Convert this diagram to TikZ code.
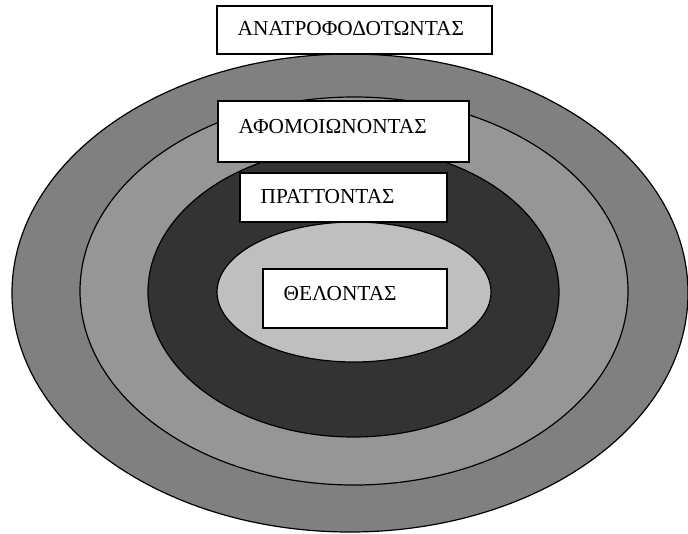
\documentclass[tikz,border=0pt]{standalone}
\usepackage{fontspec}
\setmainfont{Liberation Serif}
\usetikzlibrary{positioning}

\begin{document}
\begin{tikzpicture}[
    x=0.75pt, y=-0.75pt,
    ring/.style={draw, line width=0.9pt},
    label box/.style={draw, fill=white, line width=1.4pt, anchor=north west, align=left,
      inner xsep=15.5pt, inner ysep=0pt, font=\fontsize{16}{19}\selectfont}
  ]
  \useasboundingbox (0,0) rectangle (688,533);

  % Rings, outer to inner
  \draw[ring, fill=black!50] (350,293) ellipse [x radius=338, y radius=239];
  \draw[ring, fill=black!41] (354,291) ellipse [x radius=274, y radius=194];
  \draw[ring, fill=black!80] (353.5,292) ellipse [x radius=205.5, y radius=145];
  \draw[ring, fill=black!25] (354,292) ellipse [x radius=137, y radius=70];

  % Labels
  \node[label box, text width=175.5pt, text height=22.5pt, text depth=13.5pt] (anat) at (216,5) {ΑΝΑΤΡΟΦΟΔΟΤΩΝΤΑΣ};
  \node[label box, text width=157.25pt, text height=24.75pt, text depth=21pt] (afom) at (217,100) {ΑΦΟΜΟΙΩΝΟΝΤΑΣ};
  \node[label box, text width=124.25pt, text height=23.25pt, text depth=13.5pt] (pratt) at (239,172) {ΠΡΑΤΤΟΝΤΑΣ};
  \node[label box, text width=107pt, text height=24pt, text depth=20.25pt] (thel) at (262,268) {ΘΕΛΟΝΤΑΣ};
\end{tikzpicture}
\end{document}
